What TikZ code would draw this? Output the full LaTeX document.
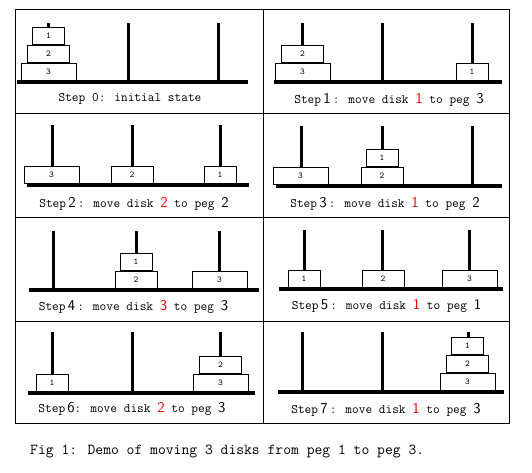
\documentclass[tikz,border=0pt]{standalone}
\usetikzlibrary{positioning}
\tikzset{
  disk/.style={draw,fill=white,line width=0.8,inner sep=0,minimum height=17,
    font=\ttfamily\fontsize{9}{9}\selectfont},
  peg/.style={line width=3},
  base/.style={line width=3.5},
  steplabel/.style={font=\ttfamily\fontsize{13}{15}\selectfont,inner sep=0},
  node distance=0
}
\newcommand{\stepnum}[1]{{\sffamily\fontsize{15}{15}\selectfont #1}}
\newcommand{\movedisk}[1]{\textcolor{red}{\stepnum{#1}}}

\begin{document}
\begin{tikzpicture}[x=1pt,y=-1pt]
  \useasboundingbox (0,0) rectangle (532,472);

  % Grid
  \draw[line width=1] (15,9) rectangle (509,423);
  \draw[line width=1] (263,9) -- (263,423);
  \foreach \y in {113,217,321} \draw[line width=1] (15,\y) -- (509,\y);

  % Step 0
  \draw[base] (17,82) -- (248,82);
  \foreach \p in {48,128,218} \draw[peg] (\p,23) -- (\p,82);
  \node[disk,minimum width=55] (s0d3) at (48.5,71.5) {3};
  \node[disk,minimum width=42,above=of s0d3] (s0d2) {2};
  \node[disk,minimum width=32,above=of s0d2] (s0d1) {1};
  \node[steplabel] (lab0) at (130,99) {Step 0: initial state};

  % Step 1
  \draw[base] (274,82) -- (502,82);
  \foreach \p in {302,382,472} \draw[peg] (\p,23) -- (\p,82);
  \node[disk,minimum width=55] (s1d3) at (302.5,71.5) {3};
  \node[disk,minimum width=42,above=of s1d3] (s1d2) {2};
  \node[disk,minimum width=32] (s1d1) at (472,71.5) {1};
  \node[steplabel] (lab1) at (389,100) {Step\,\stepnum{1}\,: move disk \movedisk{1} to peg \stepnum{3}};

  % Step 2
  \draw[base] (27,185) -- (249,185);
  \foreach \p in {52,132,220} \draw[peg] (\p,125) -- (\p,185);
  \node[disk,minimum width=55] (s2d3) at (51.5,174.5) {3};
  \node[disk,minimum width=42] (s2d2) at (132,174.5) {2};
  \node[disk,minimum width=32] (s2d1) at (220,174.5) {1};
  \node[steplabel] (lab2) at (134,204) {Step\,\stepnum{2}\,: move disk \movedisk{2} to peg \stepnum{2}};

  % Step 3
  \draw[base] (276,186) -- (502,186);
  \foreach \p in {301,382,472} \draw[peg] (\p,126) -- (\p,186);
  \node[disk,minimum width=55] (s3d3) at (300.5,175.5) {3};
  \node[disk,minimum width=42] (s3d2) at (382,175.5) {2};
  \node[disk,minimum width=32,above=of s3d2] (s3d1) {1};
  \node[steplabel] (lab3) at (385,204) {Step\,\stepnum{3}\,: move disk \movedisk{1} to peg \stepnum{2}};

  % Step 4
  \draw[base] (29,290) -- (259,290);
  \foreach \p in {53,136,219} \draw[peg] (\p,231) -- (\p,290);
  \node[disk,minimum width=42] (s4d2) at (136,279.5) {2};
  \node[disk,minimum width=32,above=of s4d2] (s4d1) {1};
  \node[disk,minimum width=55] (s4d3) at (219.5,279.5) {3};
  \node[steplabel] (lab4) at (133.5,307) {Step\,\stepnum{4}\,: move disk \movedisk{3} to peg \stepnum{3}};

  % Step 5
  \draw[base] (279,289) -- (503,289);
  \foreach \p in {304,382,469} \draw[peg] (\p,230) -- (\p,289);
  \node[disk,minimum width=32] (s5d1) at (304,278.5) {1};
  \node[disk,minimum width=42] (s5d2) at (383,278.5) {2};
  \node[disk,minimum width=55] (s5d3) at (469.5,278.5) {3};
  \node[steplabel] (lab5) at (386.5,306) {Step\,\stepnum{5}\,: move disk \movedisk{1} to peg \stepnum{1}};

  % Step 6
  \draw[base] (28,393) -- (255,393);
  \foreach \p in {52,132,220} \draw[peg] (\p,332) -- (\p,393);
  \node[disk,minimum width=32] (s6d1) at (52,382.5) {1};
  \node[disk,minimum width=55] (s6d3) at (220.5,382.5) {3};
  \node[disk,minimum width=42,above=of s6d3] (s6d2) {2};
  \node[steplabel] (lab6) at (132,409) {Step\,\stepnum{6}: move disk \movedisk{2} to peg \stepnum{3}};

  % Step 7
  \draw[base] (278,392) -- (504,392);
  \foreach \p in {302,382,468} \draw[peg] (\p,332) -- (\p,392);
  \node[disk,minimum width=55] (s7d3) at (467.5,381.5) {3};
  \node[disk,minimum width=42,above=of s7d3] (s7d2) {2};
  \node[disk,minimum width=32,above=of s7d2] (s7d1) {1};
  \node[steplabel] (lab7) at (386,410) {Step\,\stepnum{7}\,: move disk \movedisk{1} to peg \stepnum{3}};

  % Caption
  \node[font=\ttfamily\fontsize{15.2}{17}\selectfont,anchor=west,inner sep=0] (caption) at (30,451)
    {Fig 1: Demo of moving 3 disks from peg 1 to peg 3.};
\end{tikzpicture}
\end{document}
